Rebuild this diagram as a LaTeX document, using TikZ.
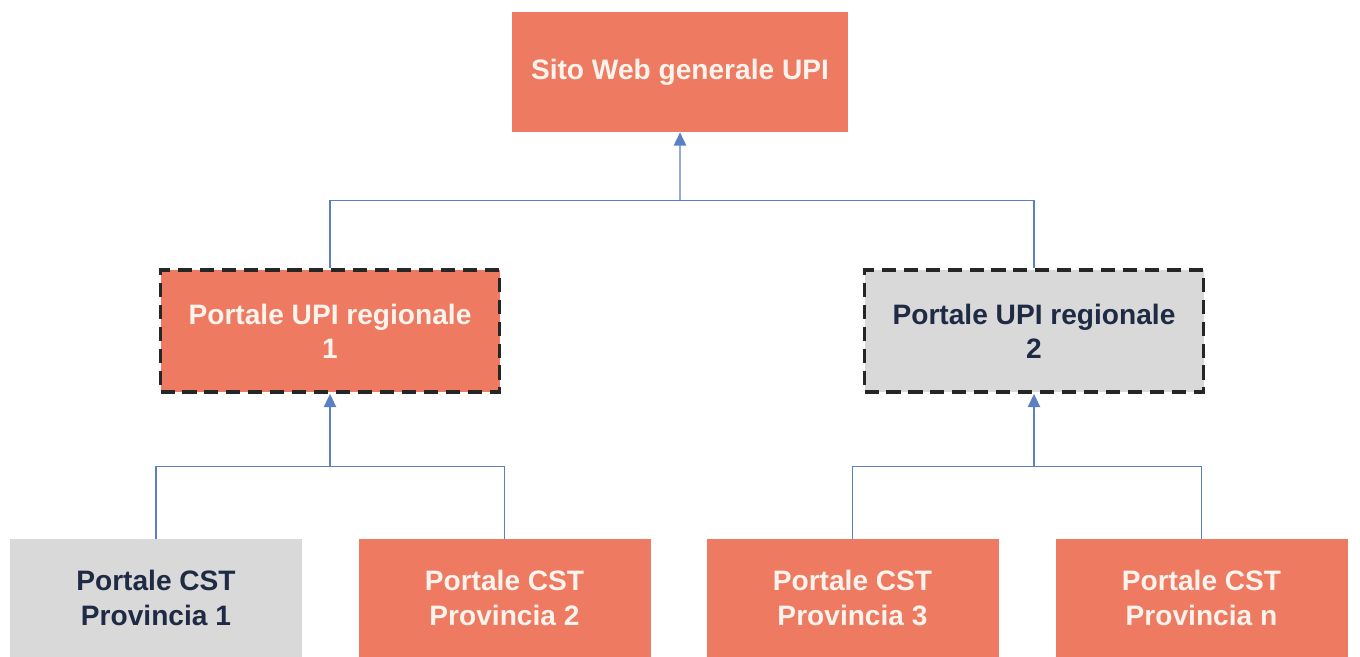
\documentclass[tikz,border=0pt]{standalone}
\usepackage{fontspec}
\setmainfont{Liberation Sans}
\usetikzlibrary{positioning,arrows.meta,calc}

\definecolor{salmon}{HTML}{EE7A62}
\definecolor{greybox}{HTML}{D9D9D9}
\definecolor{navytext}{HTML}{1F2A44}
\definecolor{linkblue}{HTML}{5B7FC4}
\definecolor{creamtext}{HTML}{FCF4EC}

\begin{document}
\begin{tikzpicture}[
  font=\fontsize{16}{19.5}\selectfont\bfseries,
  >={Triangle[length=7.5pt, width=7pt]},
  box/.style={align=center, inner sep=0pt},
  hot/.style={box, fill=salmon, text=creamtext},
  cold/.style={box, fill=greybox, text=navytext},
  regbox/.style={draw=black!85, line width=2.2pt, dash pattern=on 8pt off 4.5pt, minimum width=67.8mm, minimum height=24.4mm},
  provbox/.style={minimum width=58.4mm, minimum height=23.6mm},
  link/.style={draw=linkblue, line width=0.8pt},
  flow/.style={link, ->}
]
\useasboundingbox (0,0) rectangle (27.2,-13.14);

\node[hot, minimum width=67.2mm, minimum height=24mm] (top) at (13.6,-1.44) {Sito Web generale UPI};

\node[hot, regbox] (reg1) at (6.6,-6.62) {Portale UPI regionale\\1};
\node[cold, regbox] (reg2) at (20.68,-6.62) {Portale UPI regionale\\2};

\node[cold, provbox] (prov1) at (3.12,-11.96) {Portale CST\\Provincia 1};
\node[hot, provbox] (prov2) at (10.09,-11.96) {Portale CST\\Provincia 2};
\node[hot, provbox] (prov3) at (17.05,-11.96) {Portale CST\\Provincia 3};
\node[hot, provbox] (prov4) at (24.03,-11.96) {Portale CST\\Provincia n};

% junction points halfway between the rows
\coordinate (j0) at ($(top.south)!.5!(top.south |- reg1.north)$);
\coordinate (j1) at ($(reg1.south)!.5!(reg1.south |- prov1.north)$);
\coordinate (j2) at ($(reg2.south)!.5!(reg2.south |- prov3.north)$);

\draw[link] (reg1.north) |- (j0) -| (reg2.north);
\draw[flow] (j0) -- (top.south);

\draw[link] (prov1.north) |- (j1) -| (prov2.north);
\draw[flow] (j1) -- (reg1.south);

\draw[link] (prov3.north) |- (j2) -| (prov4.north);
\draw[flow] (j2) -- (reg2.south);
\end{tikzpicture}
\end{document}
